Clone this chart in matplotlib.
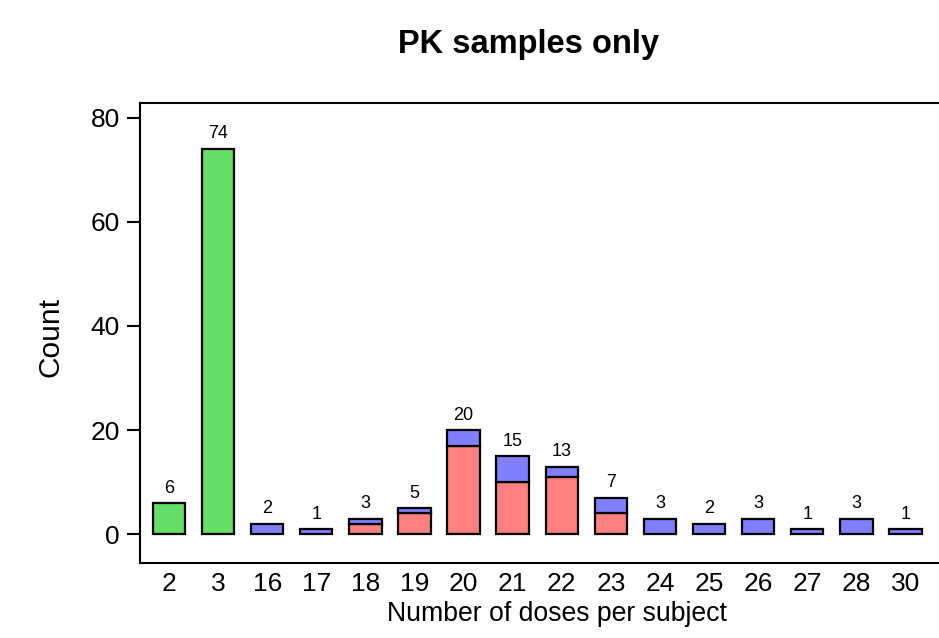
import matplotlib
matplotlib.use("Agg")
import matplotlib.pyplot as plt
import numpy as np

categories = ['2', '3', '16', '17', '18', '19', '20', '21', '22', '23',
              '24', '25', '26', '27', '28', '30']
green_vals = [6, 74, 0, 0, 0, 0, 0, 0, 0, 0, 0, 0, 0, 0, 0, 0]
red_vals = [0, 0, 0, 0, 2, 4, 17, 10, 11, 4, 0, 0, 0, 0, 0, 0]
blue_vals = [0, 0, 2, 1, 1, 1, 3, 5, 2, 3, 3, 2, 3, 1, 3, 1]

GREEN = '#66DD66'
RED = '#FF8080'
BLUE = '#8080FF'

plt.rcParams['font.family'] = ['Liberation Sans', 'DejaVu Sans']

W, H = 939, 638
fig = plt.figure(figsize=(W / 100, H / 100), dpi=100)
left_px, right_px, top_px, bot_px = 139.5, 965, 103, 562.7
ax = fig.add_axes([left_px / W, 1 - bot_px / H, (right_px - left_px) / W, (bot_px - top_px) / H])

x = np.arange(len(categories))
g = np.array(green_vals)
r = np.array(red_vals)
b = np.array(blue_vals)
width = 0.66
kw = dict(width=width, edgecolor='black', linewidth=1.6)

m = g > 0
ax.bar(x[m], g[m], color=GREEN, **kw)
m = r > 0
ax.bar(x[m], r[m], color=RED, **kw)
m = b > 0
ax.bar(x[m], b[m], bottom=r[m], color=BLUE, **kw)

totals = g + r + b
for xi, t in zip(x, totals):
    ax.annotate(str(t), (xi, t), xytext=(0, 7.5), textcoords='offset points',
                ha='center', va='baseline', fontsize=13)

ax.set_xlim(-0.6, -0.6 + (right_px - left_px) / 49.1)
ax.set_ylim(-5.45, 82.8)
ax.set_yticks([0, 20, 40, 60, 80])
ax.set_xticks(x)
ax.set_xticklabels(categories)
ax.tick_params(axis='x', length=0, labelsize=19, pad=7)
ax.tick_params(axis='y', length=9.2, width=1.5, labelsize=19, pad=5)
for s in ax.spines.values():
    s.set_linewidth(1.5)

fig.text(528 / W, 1 - 44 / H, 'PK samples only', ha='center', va='center',
         fontsize=23.5, fontweight='bold')
fig.text(51 / W, 1 - 337 / H, 'Count', rotation=90, ha='center', va='center', fontsize=21.5)
fig.text(557 / W, 1 - 614 / H, 'Number of doses per subject', ha='center', va='center', fontsize=19.2)

fig.savefig('out.png', dpi=100)
